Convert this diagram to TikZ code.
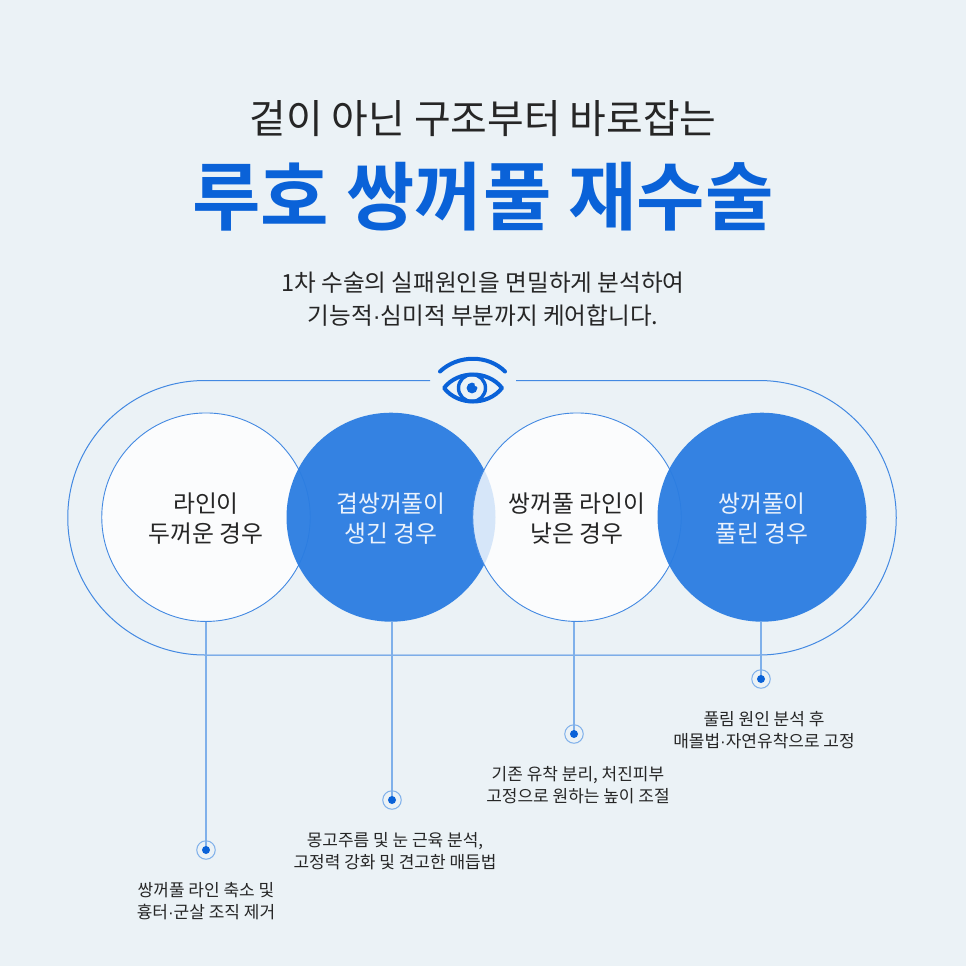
\documentclass[tikz,border=0pt]{standalone}
\usepackage{fontspec}
\setmainfont{Noto Sans CJK KR}[BoldFont=Noto Sans CJK KR Bold]
\newfontfamily\dotfont{Liberation Sans}
\newcommand{\mdot}{{\dotfont ·}}
\definecolor{bgc}{HTML}{EBF2F6}
\definecolor{bluec}{HTML}{2B7DE1}
\definecolor{deepc}{HTML}{0A62D8}
\definecolor{linec}{HTML}{4389E2}
\definecolor{stemc}{HTML}{7FB0EA}
\definecolor{txtc}{HTML}{262626}
\tikzset{
  whitecirc/.style={circle,minimum size=208.5pt,inner sep=0pt,draw=linec,line width=0.9pt,fill=white,fill opacity=0.8},
  bluecirc/.style={circle,minimum size=209pt,inner sep=0pt,fill=bluec,fill opacity=0.95},
  darklabel/.style={text=txtc,font=\fontsize{23.8}{30}\selectfont,align=center,inner sep=0pt,yshift=-1.3pt},
  lightlabel/.style={text=white!90!bluec,font=\fontsize{23.8}{30}\selectfont,align=center,inner sep=0pt,yshift=-1.3pt},
  stemline/.style={draw=stemc,line width=1.7pt},
  dotmark/.style={circle,minimum size=8pt,inner sep=0pt,fill=deepc},
  ringmark/.style={circle,minimum size=18.5pt,inner sep=0pt,draw=stemc,line width=1pt,fill=none},
  captext/.style={text=txtc,font=\fontsize{17}{22}\selectfont,align=center,inner sep=0pt},
  eyeline/.style={draw=deepc,line width=4pt,line cap=round,line join=round}
}
\begin{document}
\begin{tikzpicture}[x=1pt,y=-1pt]
\useasboundingbox (0,0) rectangle (966,966);
\fill[bgc] (0,0) rectangle (966,966);
\node[text=txtc,font=\fontsize{39.9}{44}\selectfont,inner sep=0pt] (head) at (483,119) {겉이 아닌 구조부터 바로잡는};
\node[text=deepc,font=\fontsize{74.4}{80}\bfseries\selectfont,inner sep=0pt] (title) at (483,197) {루호 쌍꺼풀 재수술};
\node[text=txtc,font=\fontsize{23.6}{32.5}\selectfont,align=center,inner sep=0pt] (sub) at (483,299) {1차 수술의 실패원인을 면밀하게 분석하여\\기능적\mdot 심미적 부분까지 케어합니다.};
% frame with gap at the top
\coordinate (gapL) at (430,380.5);
\coordinate (gapR) at (516,380.5);
\draw[linec,line width=1pt] (gapL) -- (205,380.5) arc[start angle=270,end angle=90,radius=137.25] -- (759,655) arc[start angle=90,end angle=-90,radius=137.25] -- (gapR);
% eye
\draw[eyeline] (440,371.5) .. controls (458,354.5) and (488,354.5) .. (505,371.5);
\draw[eyeline] (444,388) .. controls (458,370) and (488,370) .. (502,388) .. controls (488,406) and (458,406) .. (444,388) -- cycle;
\draw[eyeline,line width=3.4pt] (472,388) circle[radius=13.5];
\fill[deepc] (472,388) circle[radius=5.4];
\fill[bgc] (476.5,384.5) circle[radius=2];
% markers
\node[ringmark] (r1) at (206,850) {};
\node[ringmark] (r2) at (392,800) {};
\node[ringmark] (r3) at (574,734) {};
\node[ringmark] (r4) at (761,679) {};
% circles
\node[whitecirc] (c1) at (206,517.2) {};
\node[bluecirc] (c2) at (391,517.2) {};
\node[whitecirc] (c3) at (577,517.2) {};
\node[bluecirc] (c4) at (762,517.2) {};
\node[darklabel] (l1) at (c1) {라인이\\두꺼운 경우};
\node[lightlabel] (l2) at (c2) {겹쌍꺼풀이\\생긴 경우};
\node[darklabel] (l3) at (c3) {쌍꺼풀 라인이\\낮은 경우};
\node[lightlabel] (l4) at (c4) {쌍꺼풀이\\풀린 경우};
\draw[stemline] (c1.south -| r1) -- (r1.center);
\draw[stemline] (c2.south -| r2) -- (r2.center);
\draw[stemline] (c3.south -| r3) -- (r3.center);
\draw[stemline] (c4.south -| r4) -- (r4.center);
\node[dotmark] (d1) at (r1) {};
\node[dotmark] (d2) at (r2) {};
\node[dotmark] (d3) at (r3) {};
\node[dotmark] (d4) at (r4) {};
% captions
\node[captext] (t1) at (206,901) {쌍꺼풀 라인 축소 및\\흉터\mdot 군살 조직 제거};
\node[captext] (t2) at (395,851) {몽고주름 및 눈 근육 분석,\\고정력 강화 및 견고한 매듭법};
\node[captext] (t3) at (578,785) {기존 유착 분리, 처진피부\\고정으로 원하는 높이 조절};
\node[captext] (t4) at (764,730) {풀림 원인 분석 후\\매몰법\mdot 자연유착으로 고정};
\end{tikzpicture}
\end{document}
